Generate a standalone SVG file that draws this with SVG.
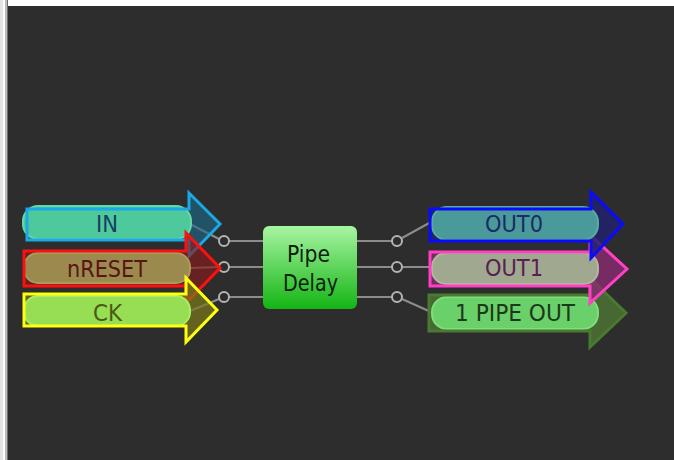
<svg xmlns="http://www.w3.org/2000/svg" width="674" height="460" viewBox="0 0 674 460">
<defs>
<linearGradient id="boxg" x1="0" y1="0" x2="0" y2="1">
<stop offset="0" stop-color="#a8f5a2"/>
<stop offset="1" stop-color="#14b414"/>
</linearGradient>
</defs>
<style>
.lbl{font-family:"DejaVu Sans","Liberation Sans",sans-serif;font-size:22.5px}
.wire{stroke:#8c8c8c;stroke-width:2;fill:none}
.port{stroke:#b4b4b4;stroke-width:2;fill:#2d2d2d}
.outl{stroke-width:3;fill:none;stroke-linejoin:miter}
</style>
<rect x="0" y="0" width="674" height="460" fill="#2d2d2d"/>
<rect x="0" y="0" width="674" height="6" fill="#ffffff"/>
<rect x="0" y="0" width="3" height="460" fill="#e4e4e4"/>
<rect x="3" y="0" width="2" height="460" fill="#ffffff"/>
<rect x="5" y="0" width="2" height="460" fill="#bdbdbd"/>
<rect x="7" y="0" width="1" height="460" fill="#6e6e6e"/>

<g id="connectors">
<line class="wire" x1="190" y1="224" x2="219" y2="239"/>
<line class="wire" x1="190" y1="268" x2="219" y2="267"/>
<line class="wire" x1="190" y1="311" x2="219" y2="299"/>
<line class="wire" x1="229" y1="241" x2="263" y2="241"/>
<line class="wire" x1="229" y1="267" x2="263" y2="267"/>
<line class="wire" x1="229" y1="297" x2="263" y2="297"/>
<line class="wire" x1="357" y1="241" x2="392" y2="241"/>
<line class="wire" x1="357" y1="267" x2="392" y2="267"/>
<line class="wire" x1="357" y1="297" x2="392" y2="297"/>
<line class="wire" x1="402" y1="238" x2="431" y2="222"/>
<line class="wire" x1="402" y1="267" x2="431" y2="267"/>
<line class="wire" x1="402" y1="299" x2="431" y2="312"/>
<circle class="port" cx="224" cy="241" r="5"/>
<circle class="port" cx="224" cy="267" r="5"/>
<circle class="port" cx="224" cy="297" r="5"/>
<circle class="port" cx="397" cy="241" r="5"/>
<circle class="port" cx="397" cy="267" r="5"/>
<circle class="port" cx="397" cy="297" r="5"/>
</g>

<g id="in-IN">
<polygon points="27,209 189,209 189,193 220,224 189,256 189,240 27,240" fill="#1a6a8a" fill-opacity="0.6"/>
<rect x="23" y="206" width="168" height="33" rx="15" fill="#4ec99b" stroke="#66d8a8" stroke-width="2"/>
<polygon class="outl" points="27,209 189,209 189,193 220,224 189,256 189,240 27,240" stroke="#1ba8e4"/>
<text class="lbl" x="96" y="232" textLength="22" lengthAdjust="spacingAndGlyphs" fill="#173f66">IN</text>
</g>

<g id="in-nRESET">
<polygon points="24,251 186,251 186,233 220,268 186,303 186,286 24,286" fill="#8a1a1a" fill-opacity="0.65"/>
<rect x="24" y="253" width="166" height="30" rx="14" fill="#9a8a4e" stroke="#aa9a5c" stroke-width="2"/>
<polygon class="outl" points="24,251 186,251 186,233 220,268 186,303 186,286 24,286" stroke="#ff1010"/>
<text class="lbl" x="67" y="277" textLength="80" lengthAdjust="spacingAndGlyphs" fill="#5a1414">nRESET</text>
</g>

<g id="in-CK">
<polygon points="24,294 186,294 186,278 217,310 186,342 186,326 24,326" fill="#7a7a1a" fill-opacity="0.7"/>
<rect x="24" y="296" width="166" height="30" rx="14" fill="#98de54" stroke="#a8ee62" stroke-width="2"/>
<polygon class="outl" points="24,294 186,294 186,278 217,310 186,342 186,326 24,326" stroke="#ffff10"/>
<text class="lbl" x="93" y="321" textLength="29" lengthAdjust="spacingAndGlyphs" fill="#4a5a12">CK</text>
</g>

<g id="pipe-delay">
<rect x="263" y="226" width="94" height="83" rx="6" fill="url(#boxg)"/>
<text class="lbl" x="287" y="262" textLength="43" lengthAdjust="spacingAndGlyphs" fill="#0c1f0c">Pipe</text>
<text class="lbl" x="283" y="291" textLength="55" lengthAdjust="spacingAndGlyphs" fill="#0c1f0c">Delay</text>
</g>

<g id="out-1-PIPE-OUT">
<polygon points="429,295 590,295 590,278 626,313 590,347 590,331 429,331" fill="#4a6e34" fill-opacity="0.9"/>
<rect x="432" y="297" width="166" height="32" rx="15" fill="#6ad06a" stroke="#7ede7a" stroke-width="2"/>
<polygon class="outl" points="429,295 590,295 590,278 626,313 590,347 590,331 429,331" stroke="#4a7a30" stroke-width="2"/>
<text class="lbl" x="455" y="321" textLength="120" lengthAdjust="spacingAndGlyphs" fill="#1a3a1a">1 PIPE OUT</text>
</g>

<g id="out-OUT1">
<polygon points="430,252 590,252 590,235 627,269 590,303 590,286 430,286" fill="#8a2a70" fill-opacity="0.8"/>
<rect x="432" y="253" width="166" height="31" rx="14" fill="#a0a890" stroke="#b0b8a0" stroke-width="2"/>
<polygon class="outl" points="430,252 590,252 590,235 627,269 590,303 590,286 430,286" stroke="#ff40c4"/>
<text class="lbl" x="485" y="276" textLength="58" lengthAdjust="spacingAndGlyphs" fill="#5a2050">OUT1</text>
</g>

<g id="out-OUT0">
<polygon points="430,209 591,209 591,192 623,224 591,258 591,241 430,241" fill="#22226e" fill-opacity="0.85"/>
<rect x="432" y="207" width="166" height="33" rx="15" fill="#4a9a9a" stroke="#5aaaa8" stroke-width="2"/>
<polygon class="outl" points="430,209 591,209 591,192 623,224 591,258 591,241 430,241" stroke="#0a0aff"/>
<text class="lbl" x="485" y="232" textLength="58" lengthAdjust="spacingAndGlyphs" fill="#1a2a6a">OUT0</text>
</g>
</svg>
